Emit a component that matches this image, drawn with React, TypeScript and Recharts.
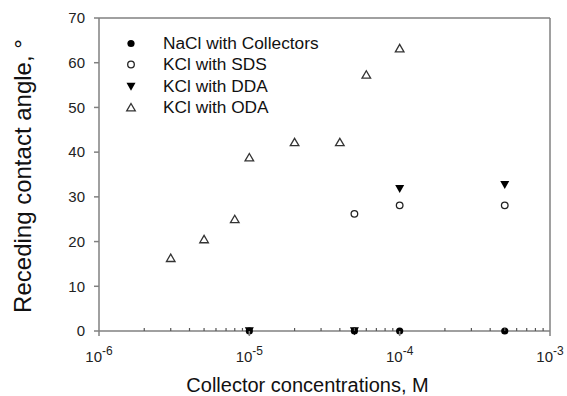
import { ScatterChart, Scatter, XAxis, YAxis, ReferenceLine, Legend, Label } from 'recharts';

const FONT = '"Liberation Sans", Arial, sans-serif';

// data (concentration in M, angle in degrees)
const naclConc = [1e-5, 5e-5, 1e-4, 5e-4];
const naclAngle = [0, 0, 0, 0];
const sdsConc = [5e-5, 1e-4, 5e-4];
const sdsAngle = [26.2, 28.1, 28.1];
const ddaConc = [1e-5, 5e-5, 1e-4, 5e-4];
const ddaAngle = [0, 0, 31.8, 32.7];
const odaConc = [3e-6, 5e-6, 8e-6, 1e-5, 2e-5, 4e-5, 6e-5, 1e-4];
const odaAngle = [16.3, 20.5, 25.0, 38.8, 42.2, 42.2, 57.3, 63.2];

const seriesNames = ['NaCl with Collectors', 'KCl with SDS', 'KCl with DDA', 'KCl with ODA'];
const decadeTicks = [1e-6, 1e-5, 1e-4, 1e-3];
const minorSteps = [2, 3, 4, 5, 6, 7, 8, 9];
const yTicks = [0, 10, 20, 30, 40, 50, 60, 70];

const toPoints = (xs: number[], ys: number[]) => xs.map((x, i) => ({ x, y: ys[i] }));

const xTicks = [
  ...decadeTicks,
  ...decadeTicks.slice(0, -1).flatMap((d) => minorSteps.map((m) => m * d)),
].sort((a, b) => a - b);

type Kind = 'dot' | 'ring' | 'down' | 'up';
const kinds: Kind[] = ['dot', 'ring', 'down', 'up'];

function Marker({ kind, cx, cy }: { kind: Kind; cx: number; cy: number }) {
  if (kind === 'dot') return <circle cx={cx} cy={cy} r={3.6} fill="#000" />;
  if (kind === 'ring') return <circle cx={cx} cy={cy} r={3.3} fill="#fff" stroke="#222" strokeWidth={1.3} />;
  if (kind === 'down') {
    return <polygon points={`${cx - 4.5},${cy - 3.8} ${cx + 4.5},${cy - 3.8} ${cx},${cy + 4.2}`} fill="#000" />;
  }
  return (
    <polygon points={`${cx},${cy - 4} ${cx + 4.3},${cy + 3.4} ${cx - 4.3},${cy + 3.4}`}
      fill="#fff" stroke="#333" strokeWidth={1.3} strokeLinejoin="miter" />
  );
}

const shapeOf = (kind: Kind) => (p: any) => <Marker kind={kind} cx={p.cx} cy={p.cy} />;

function LogTick({ x, y, payload }: any) {
  const v = payload.value as number;
  const exp = Math.round(Math.log10(v));
  const major = Math.abs(Math.log10(v) - exp) < 1e-6;
  if (!major) return <line x1={x} x2={x} y1={y} y2={y - 3} stroke="#555" strokeWidth={1.2} />;
  return (
    <g>
      <line x1={x} x2={x} y1={y} y2={y + 5} stroke="#808080" strokeWidth={1.5} />
      <text x={x} y={y + 31} textAnchor="middle" fill="#222" fontSize={15} fontFamily={FONT}>
        10<tspan dy={-7} fontSize={12}>{exp}</tspan>
      </text>
    </g>
  );
}

function LegendBox() {
  return (
    <div style={{ fontFamily: FONT, fontSize: 17.3, color: '#111', lineHeight: '21.5px' }}>
      {seriesNames.map((name, i) => (
        <div key={name} style={{ display: 'flex', alignItems: 'center', height: 21.5 }}>
          <svg width={41} height={21} style={{ display: 'block' }}>
            <Marker kind={kinds[i]} cx={9} cy={10.5} />
          </svg>
          <span>{name}</span>
        </div>
      ))}
    </div>
  );
}

export default function App() {
  return (
    <div style={{ position: 'absolute', left: 0, top: 0, background: '#fff' }}>
      <ScatterChart width={567} height={396} margin={{ top: 18, right: 17, bottom: 0, left: 0 }}>
        <XAxis dataKey="x" type="number" scale="log" domain={[1e-6, 1e-3]}
          ticks={xTicks} interval={0} tick={<LogTick />} tickLine={false} tickSize={0} tickMargin={0}
          height={65} axisLine={{ stroke: '#808080', strokeWidth: 1.5 }}>
          <Label content={({ viewBox }: any) => (
            <text x={viewBox.x + viewBox.width / 2 - 17} y={viewBox.y + 61} textAnchor="middle"
              fontSize={20} fontFamily={FONT} fill="#111">
              Collector concentrations, M
            </text>
          )} />
        </XAxis>
        <YAxis dataKey="y" type="number" domain={[0, 70]} ticks={yTicks} width={99}
          tick={{ fontSize: 15, fill: '#222', fontFamily: FONT }} tickSize={5} tickMargin={9}
          tickLine={{ stroke: '#808080', strokeWidth: 1.5 }} axisLine={{ stroke: '#808080', strokeWidth: 1.5 }}>
          <Label content={({ viewBox }: any) => {
            const lx = viewBox.x + 31;
            const ly = viewBox.y + viewBox.height / 2 + 1.5;
            return (
              <text x={lx} y={ly} transform={`rotate(-90, ${lx}, ${ly})`} textAnchor="middle"
                fontSize={24} fontFamily={FONT} fill="#111">
                Receding contact angle, °
              </text>
            );
          }} />
        </YAxis>
        <ReferenceLine y={70} stroke="#808080" strokeWidth={1.5} />
        <ReferenceLine x={1e-3} stroke="#808080" strokeWidth={1.5} />
        <Legend layout="vertical" align="center" verticalAlign="middle" content={<LegendBox />}
          wrapperStyle={{ left: 122, top: 32.5, width: 'auto' }} />
        <Scatter name={seriesNames[0]} data={toPoints(naclConc, naclAngle)} shape={shapeOf('dot')} isAnimationActive={false} />
        <Scatter name={seriesNames[1]} data={toPoints(sdsConc, sdsAngle)} shape={shapeOf('ring')} isAnimationActive={false} />
        <Scatter name={seriesNames[2]} data={toPoints(ddaConc, ddaAngle)} shape={shapeOf('down')} isAnimationActive={false} />
        <Scatter name={seriesNames[3]} data={toPoints(odaConc, odaAngle)} shape={shapeOf('up')} isAnimationActive={false} />
      </ScatterChart>
    </div>
  );
}
